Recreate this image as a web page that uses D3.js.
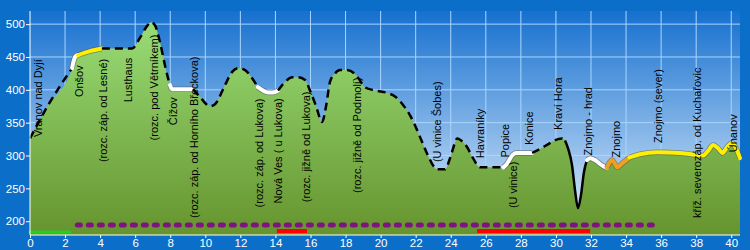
<!DOCTYPE html>
<html>
<head>
<meta charset="utf-8">
<script src="https://d3js.org/d3.v7.min.js"></script>
<style>
    body { margin: 0; background: #0b6fca; }
    svg { display: block; font-family: "Liberation Sans", Arial, sans-serif; }
    .tick text { fill: #fff; }
    .label { font-size: 11px; fill: #000; }
</style>
</head>
<body>
<script>
// profile: distance (km) and elevation (m)
var profileKm = [0, 1, 2.4, 2.57, 2.74, 3.42, 4.1, 5.82, 6.27, 6.67, 6.9, 7.13, 7.42, 7.7, 7.87,
    7.99, 8.1, 8.56, 9.3, 9.7, 10.27, 10.55, 11.12, 11.52, 11.87, 12.27, 12.66, 13.0,
    13.29, 13.58, 13.86, 14.15, 14.55, 14.95, 15.29, 15.69, 15.97, 16.32, 16.66, 16.9, 17.11,
    17.4, 17.68, 18.08, 18.54, 18.8, 19.1, 19.68, 20.42, 20.82, 21.28, 21.68, 21.96, 22.25,
    22.7, 22.99, 23.2, 23.67, 23.96, 24.25, 24.36, 24.53, 24.93, 25.27, 25.67, 26.24, 27.0,
    27.2, 27.5, 27.72, 28.64, 29.1, 29.66, 30.12, 30.35, 30.52, 30.69, 30.92, 31.09, 31.26,
    31.43, 31.6, 31.77, 31.95, 32.23, 32.63, 32.9, 33.07, 33.2, 33.37, 33.49, 33.77, 34.2,
    34.8, 35.77, 37.1, 38.4, 38.68, 38.97, 39.25, 39.5, 39.77, 40.05, 40.27, 40.5];
var profileElev = [326, 375, 433, 450, 453, 459, 463, 463, 479, 497, 503, 498, 472, 437, 418,
    407, 401, 401, 401, 389, 375, 378, 407, 427, 433, 430, 418, 404,
    399, 396, 396, 399, 412, 419, 419, 415, 399, 375, 351, 377, 412,
    425, 430, 430, 424, 415, 404, 399, 395, 390, 377, 361, 346, 328,
    300, 285, 279, 279, 296, 320, 326, 324, 313, 296, 282, 282, 282,
    287, 300, 304, 304, 310, 319, 325, 326, 323, 311, 285, 247, 220,
    240, 275, 293, 296, 293, 285, 281, 290, 293, 287, 282, 288, 297,
    302, 305, 304, 300, 307, 316, 311, 304, 313, 319, 311, 296];

// line style changes along the route (start km, end km, kind)
var segFrom = [0, 2.4, 2.74, 4.1, 7.99, 9.3, 13.0, 14.15, 27.0, 28.64, 30.52, 31.77, 32.9, 34.2];
var segTo   = [2.4, 2.74, 4.1, 7.99, 9.3, 13.0, 14.15, 27.0, 28.64, 30.52, 31.77, 32.9, 34.2, 40.5];
var segKind = ["dash", "white", "yellow", "dash", "white", "dash", "white", "dash", "white", "dash", "black", "white", "orange", "yellow"];

// place names: km, and elevation where the rotated text starts
var placeNames = ["Vranov nad Dyjí", "Onšov", "(rozc. záp. od Lesné)", "Lusthaus", "(rozc. pod Větrníkem)",
    "Čížov", "(rozc. záp. od Horního Břeckova)", "(rozc. záp. od Lukova)", "Nová Ves ( u Lukova)",
    "(rozc. jižně od Lukova)", "(rozc. jižně od Podmolí)", "(U vinice Šobes)", "Havraníky", "Popice",
    "(U vinice)", "Konice", "Kraví Hora", "Znojmo - hrad", "Znojmo", "Znojmo (sever)",
    "kříž. severozáp. od Kuchařovic", "Únanov"];
var placeKm = [0.45, 2.8, 4.16, 5.6, 7.07, 8.16, 9.36, 13.07, 14.15, 15.74, 18.65, 23.22, 25.67, 27.1,
    27.55, 28.47, 30.12, 31.83, 33.43, 35.82, 38.05, 40.1];
var placeElev = [328, 389, 290, 381, 323, 346, 205, 221, 227, 229, 243, 290, 296, 297,
    220, 316, 339, 300, 297, 319, 205, 305];

// surface bars under the profile
var greenBar = [[0, 2.3]];
var purpleBar = [[2.7, 35.65]];
var redBar = [[14.08, 15.8], [25.5, 31.95]];

var xTicks = d3.range(0, 41, 2);
var yTicks = [200, 250, 300, 350, 400, 450, 500];

var margin = {top: 11, right: 10, bottom: 15, left: 30},
    width = 750 - margin.left - margin.right,
    height = 250 - margin.top - margin.bottom;

var x = d3.scaleLinear().domain([0, 40.5]).range([0, width]);
var y = d3.scaleLinear().domain([179, 520]).range([height, 0]);

var svg = d3.select("body").append("svg")
    .attr("width", 750).attr("height", 250);

var defs = svg.append("defs");
var sky = defs.append("linearGradient").attr("id", "sky")
    .attr("x1", 0).attr("y1", 0).attr("x2", 0).attr("y2", 1);
sky.append("stop").attr("offset", "0%").attr("stop-color", "#1670cf");
sky.append("stop").attr("offset", "100%").attr("stop-color", "#e4f1fd");

var grass = defs.append("linearGradient").attr("id", "grass")
    .attr("gradientUnits", "userSpaceOnUse")
    .attr("x1", 0).attr("y1", 0).attr("x2", 0).attr("y2", height);
grass.append("stop").attr("offset", "0%").attr("stop-color", "#9be07a");
grass.append("stop").attr("offset", "100%").attr("stop-color", "#66942e");

svg.append("rect").attr("width", 750).attr("height", 250).attr("fill", "#0b6fca");

var g = svg.append("g")
    .attr("transform", "translate(" + margin.left + "," + margin.top + ")");

g.append("rect").attr("width", width).attr("height", height).attr("fill", "url(#sky)");

// grid
g.selectAll(".vgrid").data(xTicks.filter(function(d) { return d > 0; })).enter()
    .append("line")
    .attr("x1", function(d) { return x(d); }).attr("x2", function(d) { return x(d); })
    .attr("y1", 0).attr("y2", height)
    .attr("stroke", "#a9d6ff").attr("stroke-width", 1);
g.selectAll(".hgrid").data(yTicks).enter()
    .append("line")
    .attr("x1", 0).attr("x2", width)
    .attr("y1", function(d) { return y(d); }).attr("y2", function(d) { return y(d); })
    .attr("stroke", "#a9d6ff").attr("stroke-width", 1);

var profile = profileKm.map(function(k, i) { return {km: k, elev: profileElev[i]}; });

var area = d3.area()
    .x(function(d) { return x(d.km); })
    .y0(height)
    .y1(function(d) { return y(d.elev); })
    .curve(d3.curveMonotoneX);

g.append("path").datum(profile)
    .attr("d", area)
    .attr("fill", "url(#grass)");

// bars
function bars(data, yPos, color, w, dash) {
    g.selectAll(null).data(data).enter().append("line")
        .attr("x1", function(d) { return x(d[0]); })
        .attr("x2", function(d) { return x(d[1]); })
        .attr("y1", yPos).attr("y2", yPos)
        .attr("stroke", color).attr("stroke-width", w)
        .attr("stroke-linecap", dash ? "round" : "butt")
        .attr("stroke-dasharray", dash);
}
bars(purpleBar, 214, "#7f137f", 5, "3,8");
bars(redBar, 220, "#ff0000", 4, null);
bars(greenBar, 221, "#1fd21f", 3, "5,2");

// profile line
var line = d3.line()
    .x(function(d) { return x(d.km); })
    .y(function(d) { return y(d.elev); })
    .curve(d3.curveMonotoneX);

var kindColor = {dash: "#000", black: "#000", white: "#fff", yellow: "#ffef00", orange: "#f0a020"};

segKind.forEach(function(kind, i) {
    var pts = profile.filter(function(d) { return d.km >= segFrom[i] - 1e-6 && d.km <= segTo[i] + 1e-6; });
    if (kind === "white" || kind === "yellow" || kind === "orange") {
        g.append("path").datum(pts).attr("d", line)
            .attr("fill", "none").attr("stroke", "#555").attr("stroke-opacity", 0.6)
            .attr("stroke-width", 5.5).attr("stroke-linejoin", "round");
        g.append("path").datum(pts).attr("d", line)
            .attr("fill", "none").attr("stroke", kindColor[kind])
            .attr("stroke-width", 4).attr("stroke-linejoin", "round").attr("stroke-linecap", "round");
    } else {
        g.append("path").datum(pts).attr("d", line)
            .attr("fill", "none").attr("stroke", "#000")
            .attr("stroke-width", 2.5)
            .attr("stroke-dasharray", kind === "dash" ? "8,5" : null);
    }
});

// place labels
g.selectAll(".label").data(placeNames).enter().append("text")
    .attr("class", "label")
    .attr("transform", function(d, i) {
        return "translate(" + x(placeKm[i]) + "," + y(placeElev[i]) + ") rotate(-90)";
    })
    .attr("dy", "0.35em")
    .text(function(d) { return d; });

// axes
var xAxis = d3.axisBottom(x).tickValues(xTicks).tickSize(3).tickPadding(1);
var yAxis = d3.axisLeft(y).tickValues(yTicks).tickSize(4).tickPadding(1);

var gx = g.append("g").attr("transform", "translate(0," + height + ")").call(xAxis);
var gy = g.append("g").call(yAxis);
[gx, gy].forEach(function(a) {
    a.select(".domain").attr("stroke", "#fff");
    a.selectAll(".tick line").attr("stroke", "#fff");
    a.selectAll(".tick text").attr("font-size", 11.5).attr("font-family", "Liberation Sans, Arial, sans-serif");
});
gx.selectAll(".tick text").attr("dy", "0.66em");
gy.select(".domain").attr("d", "M0," + height + "V0");
gx.select(".domain").attr("d", "M0,0H" + width);
</script>
</body>
</html>
